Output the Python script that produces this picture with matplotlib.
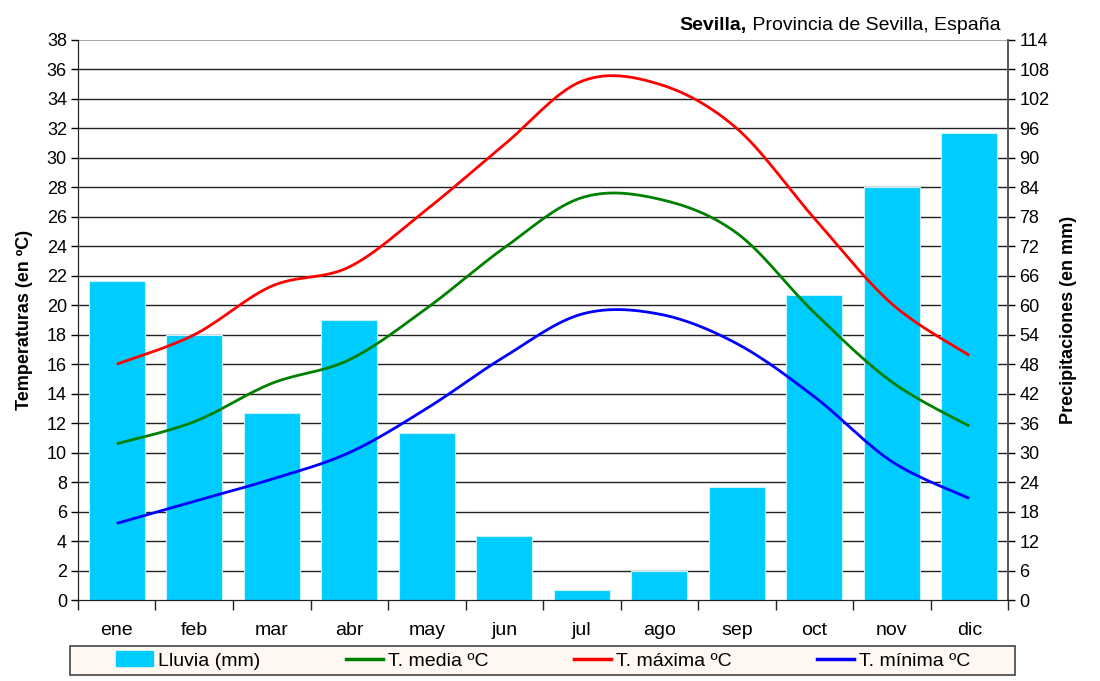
import numpy as np
import matplotlib
matplotlib.use("Agg")
import matplotlib.pyplot as plt
from matplotlib.lines import Line2D
from matplotlib.patches import Patch, Rectangle

plt.rcParams['font.family'] = ['Liberation Sans', 'DejaVu Sans']

meses = ["ene", "feb", "mar", "abr", "may", "jun", "jul", "ago", "sep", "oct", "nov", "dic"]
lluvia = [65, 54, 38, 57, 34, 13, 2, 6, 23, 62, 84, 95]
t_media = [10.6, 12.1, 14.7, 16.3, 19.8, 23.9, 27.3, 27.2, 24.9, 19.5, 14.8, 11.8]
t_max = [16.0, 18.0, 21.3, 22.6, 26.5, 30.9, 35.2, 35.0, 32.0, 25.9, 20.1, 16.6]
t_min = [5.2, 6.7, 8.2, 10.0, 13.0, 16.5, 19.4, 19.4, 17.4, 13.8, 9.4, 6.9]


def suavizar(x, y, n=30):
    # Catmull-Rom, como el "suavizado" de Excel
    x = np.asarray(x, float)
    y = np.asarray(y, float)
    px = np.concatenate([[x[0]], x, [x[-1]]])
    py = np.concatenate([[y[0]], y, [y[-1]]])
    xs, ys = [], []
    t = np.linspace(0, 1, n)
    for i in range(1, len(px) - 2):
        mx0 = (px[i + 1] - px[i - 1]) / 2
        mx1 = (px[i + 2] - px[i]) / 2
        my0 = (py[i + 1] - py[i - 1]) / 2
        my1 = (py[i + 2] - py[i]) / 2
        h00 = 2 * t**3 - 3 * t**2 + 1
        h10 = t**3 - 2 * t**2 + t
        h01 = -2 * t**3 + 3 * t**2
        h11 = t**3 - t**2
        xs.append(h00 * px[i] + h10 * mx0 + h01 * px[i + 1] + h11 * mx1)
        ys.append(h00 * py[i] + h10 * my0 + h01 * py[i + 1] + h11 * my1)
    return np.concatenate(xs), np.concatenate(ys)


fig = plt.figure(figsize=(11, 6.81), dpi=100)
ax = fig.add_axes([0.0709, 0.1189, 0.8455, 0.8224])
ax2 = ax.twinx()

x = np.arange(len(meses))

# barras en el eje derecho (mm)
ax2.bar(x, lluvia, width=0.72, color="#00CCFF", edgecolor="#C8F4FF", linewidth=0.8, zorder=2)
ax2.set_ylim(0, 114)
ax2.set_yticks(np.arange(0, 115, 6))
ax2.set_ylabel("Precipitaciones (en mm)", fontsize=13, fontweight="bold", labelpad=8)

# ejes
ax.set_ylim(0, 38)
ax.set_yticks(np.arange(0, 39, 2))
ax.set_xlim(-0.5, 11.5)
ax.set_ylabel("Temperaturas (en ºC)", fontsize=13, fontweight="bold", labelpad=10)

ax.set_zorder(ax2.get_zorder() + 1)
ax.patch.set_visible(False)

# rejilla en el eje de barras para quedar detrás
for v in np.arange(2, 38, 2):
    ax2.axhline(v * 3, color="#222222", lw=1.0, zorder=1)
ax2.axhline(114, color="#999999", lw=1.2, zorder=1)

for serie, col in [(t_media, "#008000"), (t_max, "#FF0000"), (t_min, "#0000FF")]:
    sx, sy = suavizar(x, serie)
    ax.plot(sx, sy, color=col, lw=2.0, solid_capstyle="butt", zorder=3)

ax.set_xticks(x)
ax.set_xticklabels(meses, fontsize=14)
ax.set_xticks(np.arange(-0.5, 12, 1), minor=True)
ax.tick_params(axis="x", which="major", length=0, pad=16)
ax.tick_params(axis="x", which="minor", length=7, width=1, color="#222222")
ax.tick_params(axis="y", length=5, width=1, labelsize=13, pad=3)
ax2.tick_params(axis="y", length=5, width=1, labelsize=13, pad=3)

for a in (ax, ax2):
    a.spines["top"].set_visible(False)
    a.spines["left"].set_color("#222222")
    a.spines["bottom"].set_color("#222222")
    a.spines["right"].set_color("#555555")
    a.spines["right"].set_linewidth(1.2)

# titulo: parte normal y parte en negrita pegadas
t_norm = fig.text(0.9095, 0.963, " Provincia de Sevilla, España", fontsize=14, ha="right", va="center")
fig.canvas.draw()
bb = t_norm.get_window_extent(renderer=fig.canvas.get_renderer())
fig.text(bb.x0 / fig.bbox.width, 0.963, "Sevilla,", fontsize=14, ha="right", va="center",
         fontweight="bold")

# caja de la leyenda
fig.patches.append(Rectangle((70 / 1100, 6 / 681), 945 / 1100, 29 / 681,
                             transform=fig.transFigure, facecolor="#FFF8F0",
                             edgecolor="#444444", linewidth=1.2, zorder=0))

handles = [
    Patch(facecolor="#00CCFF", edgecolor="#00CCFF"),
    Line2D([], [], color="#008000", lw=2.5),
    Line2D([], [], color="#FF0000", lw=2.5),
    Line2D([], [], color="#0000FF", lw=2.5),
]
labels = ["Lluvia (mm)", "T. media ºC", "T. máxima ºC", "T. mínima ºC"]
leg = fig.legend(handles, labels, loc="center", bbox_to_anchor=(543 / 1100, 20.5 / 681),
                 ncol=4, fontsize=14, frameon=False,
                 handlelength=1.9, handleheight=0.8, handletextpad=0.25,
                 columnspacing=4.4, borderpad=0)

fig.savefig("out.png", dpi=100)
